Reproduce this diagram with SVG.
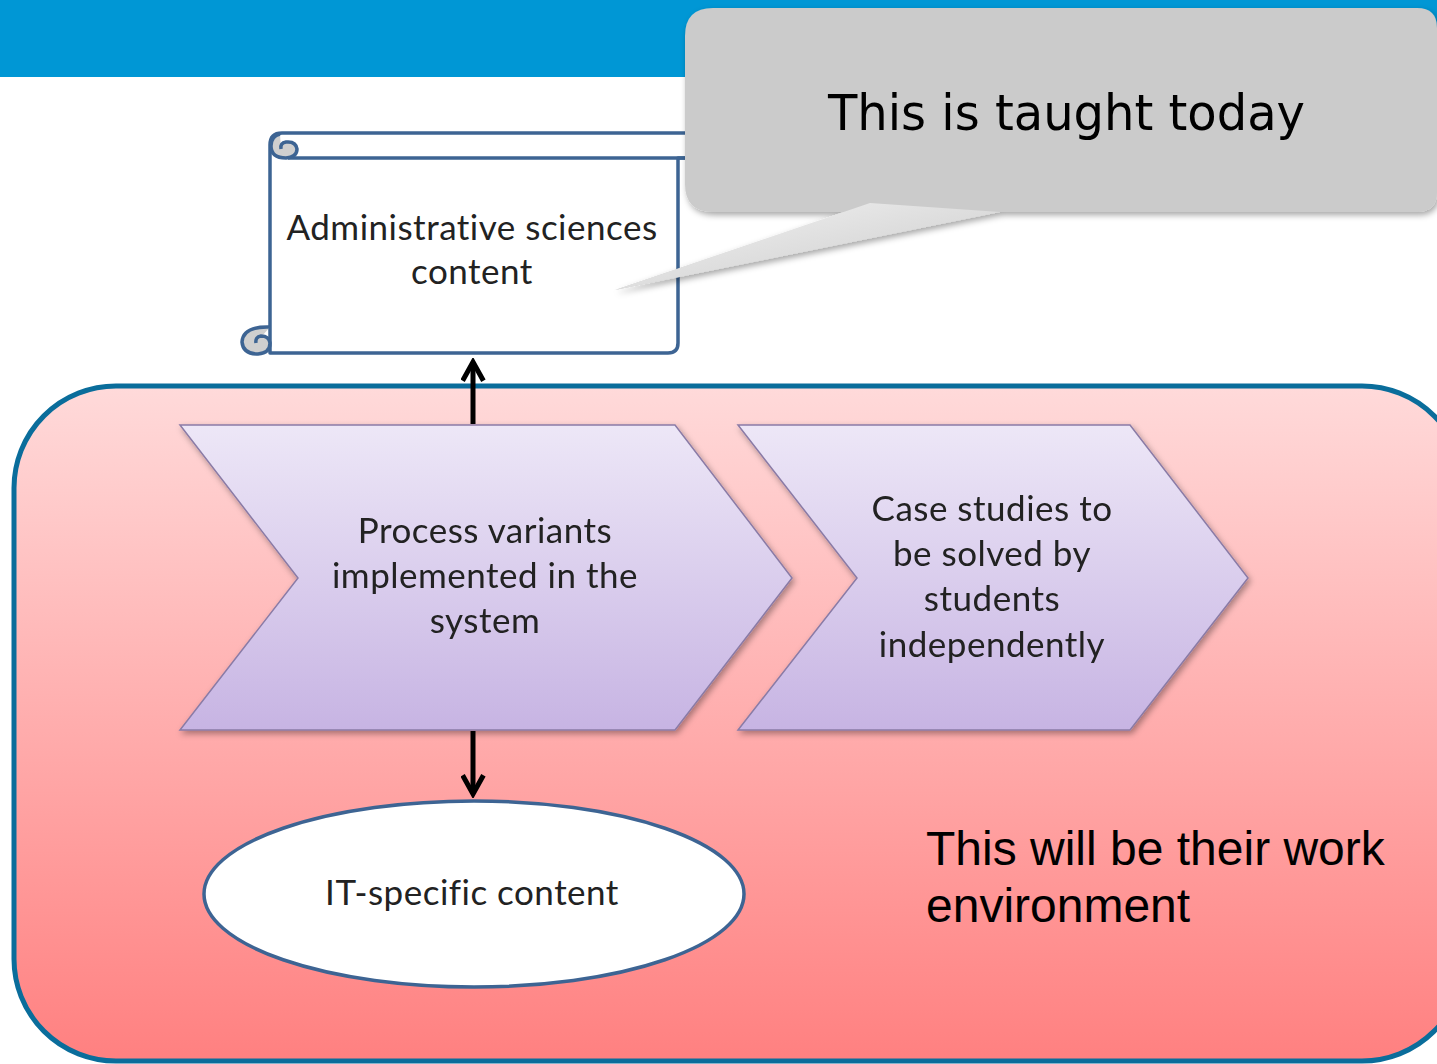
<svg xmlns="http://www.w3.org/2000/svg" width="1437" height="1064" viewBox="0 0 1437 1064">
<defs>
<linearGradient id="pinkGrad" x1="0" y1="0" x2="0" y2="1">
<stop offset="0" stop-color="#ffdada"/>
<stop offset="1" stop-color="#ff8080"/>
</linearGradient>
<linearGradient id="chevGrad" x1="0" y1="0" x2="0" y2="1">
<stop offset="0" stop-color="#ede7f7"/>
<stop offset="1" stop-color="#c7b4e3"/>
</linearGradient>
<linearGradient id="tailGrad" x1="0" y1="0" x2="1" y2="1">
<stop offset="0" stop-color="#f4f4f4"/>
<stop offset="1" stop-color="#c8c8c8"/>
</linearGradient>
<filter id="shadow" x="-10%" y="-10%" width="130%" height="130%">
<feDropShadow dx="2" dy="3" stdDeviation="3" flood-color="#000" flood-opacity="0.35"/>
</filter>
<marker id="arrowOpen" viewBox="0 0 12 12" refX="10" refY="6" markerWidth="5" markerHeight="5" orient="auto" markerUnits="strokeWidth">
<path d="M 1,1 L 10,6 L 1,11" fill="none" stroke="#000" stroke-width="2.4" stroke-linejoin="miter"/>
</marker>
<style>
.cal { font-family: Lato, "Open Sans", "Liberation Sans", sans-serif; font-size: 35px; letter-spacing: 0.5px; font-variant-ligatures: none; fill: #222; text-anchor: middle; }
.chev { fill: url(#chevGrad); stroke: #8a7ba6; stroke-width: 1.5; }
.scroll { fill: #fff; stroke: #3d6493; stroke-width: 3.5; stroke-linejoin: round; }
.conn { stroke: #000; stroke-width: 5; fill: none; }
</style>
</defs>
<rect width="1437" height="1064" fill="#ffffff"/>
<rect id="banner" x="0" y="0" width="1437" height="77" fill="#0097d5"/>

<g id="environment">
<rect x="14" y="386" width="1450" height="675" rx="102" ry="102" fill="url(#pinkGrad)" stroke="#0a6d9b" stroke-width="5"/>
<text x="926" y="865" font-family="'Liberation Sans', Arial, sans-serif" font-size="48" fill="#000">This will be their work</text>
<text x="926" y="922" font-family="'Liberation Sans', Arial, sans-serif" font-size="48" fill="#000">environment</text>
</g>

<g id="admin-scroll">
<path class="scroll" d="M 270,145 Q 270,133 282,133 H 700 V 158 H 678 V 343 Q 678,353 668,353 H 270 Z"/>
<path class="scroll" fill="none" d="M 288,158 H 690"/>
<path d="M 280,134 Q 271,136 271,146 Q 271,158 286,158 Q 297,157 297,149 Q 296,141 286,142 Q 280,143 281,149" fill="#cfcfcf" stroke="#3d6493" stroke-width="3.5" stroke-linejoin="round"/>
<path d="M 270,327 Q 243,326 242,342 Q 243,354 258,354 Q 270,353 270,343 Q 269,336 261,336 Q 255,337 256,343" fill="#cfcfcf" stroke="#3d6493" stroke-width="3.5" stroke-linejoin="round"/>
<text class="cal" x="472" y="240">Administrative sciences</text>
<text class="cal" x="472" y="284">content</text>
</g>

<g id="callout" filter="url(#shadow)">
<path d="M 713,8 H 1417 Q 1437,8 1437,28 V 192 Q 1437,212 1417,212 H 1000 L 615,290 L 870,204 Q 862,212 850,212 H 713 Q 685,212 685,184 V 36 Q 685,8 713,8 Z" fill="#cbcbcb"/>
<path d="M 870,203 L 615,290 L 1000,212 Z" fill="url(#tailGrad)"/>
<text x="828" y="130" font-family="'DejaVu Sans Condensed', 'DejaVu Sans', sans-serif" font-size="50" textLength="477" lengthAdjust="spacingAndGlyphs" fill="#000">This is taught today</text>
</g>

<g id="connectors">
<line class="conn" x1="473" y1="424" x2="473" y2="362" marker-end="url(#arrowOpen)"/>
<line class="conn" x1="473" y1="731" x2="473" y2="794" marker-end="url(#arrowOpen)"/>
</g>

<g id="process-variants" filter="url(#shadow)">
<polygon class="chev" points="180,425 675,425 792,578 675,730 180,730 298,578"/>
<text class="cal" x="485" y="543">Process variants</text>
<text class="cal" x="485" y="588">implemented in the</text>
<text class="cal" x="485" y="633">system</text>
</g>

<g id="case-studies" filter="url(#shadow)">
<polygon class="chev" points="738,425 1130,425 1248,578 1130,730 738,730 857,578"/>
<text class="cal" x="992" y="521">Case studies to</text>
<text class="cal" x="992" y="566">be solved by</text>
<text class="cal" x="992" y="611">students</text>
<text class="cal" x="992" y="657">independently</text>
</g>

<g id="it-content">
<ellipse cx="474" cy="894" rx="270" ry="93" fill="#fff" stroke="#3d6493" stroke-width="3.5"/>
<text class="cal" x="472" y="905">IT-specific content</text>
</g>
</svg>
